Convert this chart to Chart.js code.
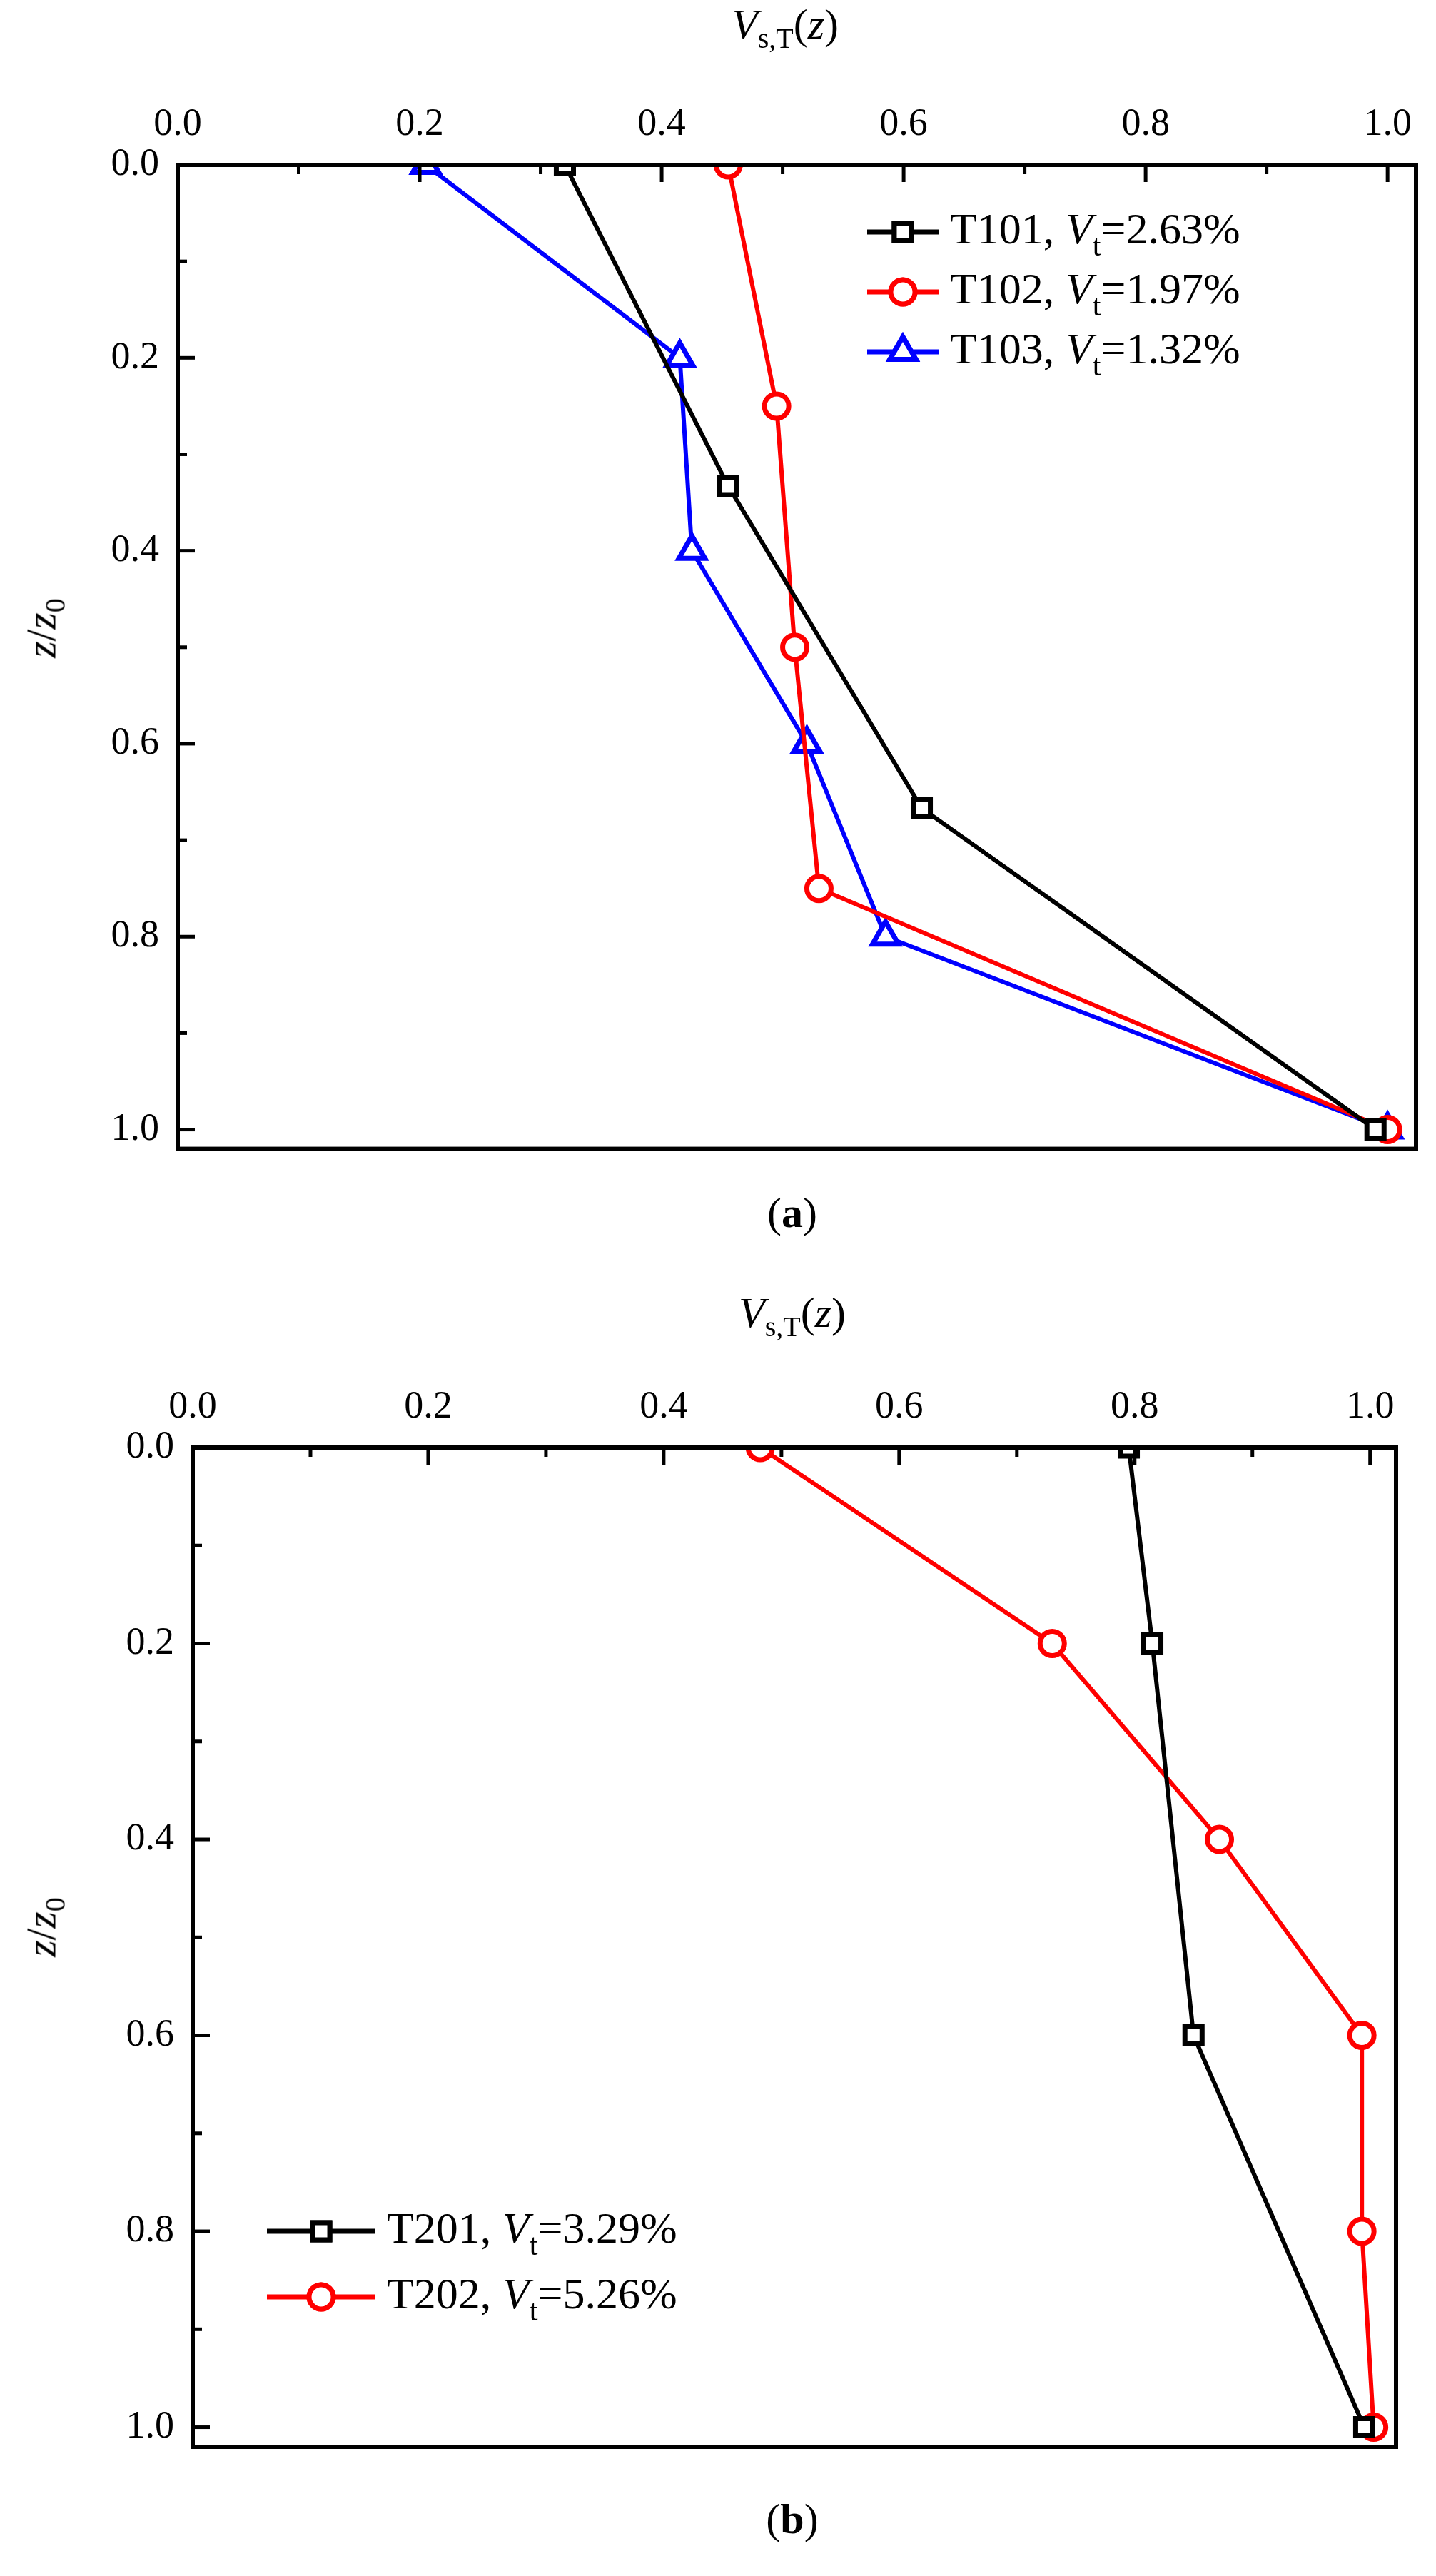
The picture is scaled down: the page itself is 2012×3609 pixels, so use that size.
<!DOCTYPE html>
<html><head><meta charset="utf-8">
<script src="https://cdn.jsdelivr.net/npm/chart.js@4"></script>
<style>
body{margin:0;background:#fff;width:2012px;height:3609px;position:relative;font-family:"Liberation Serif","Times New Roman",serif;}
.c{position:absolute;left:0;width:2012px;}
.t{position:absolute;font-size:60px;white-space:nowrap;color:#000;}
.t sub{font-size:40px;}
.yt{transform:translate(-50%,-50%) rotate(-90deg);}
.xt{transform:translateX(-50%);}
</style></head><body>
<div class="c" style="top:0;height:1660px"><canvas id="ca"></canvas></div>
<div class="c" style="top:1760px;height:1720px"><canvas id="cb"></canvas></div>
<div class="t xt" style="left:1100px;top:0px"><i>V</i><sub>s,T</sub>(<i>z</i>)</div>
<div class="t yt" style="left:62px;top:880px"><i>z</i>/<i>z</i><sub>0</sub></div>
<div class="t xt" style="left:1110px;top:1665px">(<b>a</b>)</div>
<div class="t xt" style="left:1110px;top:1805px"><i>V</i><sub>s,T</sub>(<i>z</i>)</div>
<div class="t yt" style="left:62px;top:2700px"><i>z</i>/<i>z</i><sub>0</sub></div>
<div class="t xt" style="left:1110px;top:3495px">(<b>b</b>)</div>
<script>
// chart (a)
const t101X = [0.32, 0.455, 0.615, 0.99];
const t101Y = [0, 0.333, 0.667, 1.0];
const t102X = [0.455, 0.495, 0.51, 0.53, 1.0];
const t102Y = [0, 0.25, 0.5, 0.75, 1.0];
const t103X = [0.205, 0.415, 0.425, 0.52, 0.585, 1.0];
const t103Y = [0, 0.2, 0.4, 0.6, 0.8, 1.0];
// chart (b)
const t201X = [0.795, 0.815, 0.85, 0.995];
const t201Y = [0, 0.2, 0.6, 1.0];
const t202X = [0.482, 0.73, 0.872, 0.993, 0.993, 1.003];
const t202Y = [0, 0.2, 0.4, 0.6, 0.8, 1.0];
const tickVals = [0, 0.2, 0.4, 0.6, 0.8, 1.0];

const FONT = '"Liberation Serif"';
const pts = (xs, ys) => xs.map((x, i) => ({x: x, y: ys[i]}));
function ds(label, xs, ys, color, style, r){
    return {label: label, data: pts(xs, ys), borderColor: color, backgroundColor: '#fff',
        borderWidth: 6, pointStyle: style, pointRadius: r, pointBorderWidth: 7, pointHoverRadius: r};
}

// frame + inward ticks
const framePlugin = {
    id: 'frame',
    afterDatasetsDraw(chart){
        const c = chart.ctx, a = chart.chartArea, xs = chart.scales.x, ys = chart.scales.y;
        c.save(); c.strokeStyle = '#000'; c.lineWidth = 6;
        c.strokeRect(a.left, a.top, a.right - a.left, a.bottom - a.top);
        c.lineWidth = 5;
        for(let i = 0; i <= 10; i++){
            const v = i / 10, len = i % 2 ? 13 : 24;
            const px = xs.getPixelForValue(v), py = ys.getPixelForValue(v);
            c.beginPath(); c.moveTo(px, a.top); c.lineTo(px, a.top + len); c.stroke();
            c.beginPath(); c.moveTo(a.left, py); c.lineTo(a.left + len, py); c.stroke();
        }
        c.restore();
    }
};
const legendPlugin = {
    id: 'leg',
    afterDraw(chart, args, opts){
        const c = chart.ctx;
        chart.data.datasets.forEach((d, i) => {
            const y = opts.y + i * opts.dy;
            c.save();
            c.strokeStyle = d.borderColor; c.lineWidth = 7;
            c.beginPath(); c.moveTo(opts.x0, y); c.lineTo(opts.x1, y); c.stroke();
            c.fillStyle = '#fff';
            Chart.helpers.drawPoint(c, {pointStyle: d.pointStyle, radius: d.pointRadius, borderWidth: 7}, (opts.x0 + opts.x1) / 2, y);
            c.fill(); c.stroke();
            c.fillStyle = '#000'; c.textBaseline = 'middle';
            let x = opts.x1 + 16;
            const parts = [[d.label[0], 'normal 62px', 0], ['V', 'italic 62px', 0], ['t', 'normal 42px', 22], [d.label[1], 'normal 62px', 0]];
            parts.forEach(p => {
                c.font = p[1] + ' ' + FONT;
                c.fillText(p[0], x, y + p[2]);
                x += c.measureText(p[0]).width;
            });
            c.restore();
        });
    }
};

function makeChart(id, sets, top, left, rightPad, bottomPad, xMax, leg){
    return new Chart(document.getElementById(id), {
        type: 'line',
        data: {datasets: sets},
        plugins: [framePlugin, legendPlugin],
        options: {
            responsive: true, maintainAspectRatio: false, animation: false,
            layout: {padding: {right: rightPad, bottom: bottomPad, top: 0, left: 0}},
            plugins: {legend: {display: false}, tooltip: {enabled: false}, leg: leg},
            scales: {
                x: {type: 'linear', position: 'top', min: 0, max: xMax,
                    grid: {display: false}, border: {display: false},
                    afterBuildTicks: s => { s.ticks = tickVals.map(v => ({value: v})); },
                    afterFit: s => { s.height = top; },
                    ticks: {color: '#000', padding: 16, maxRotation: 0, font: {family: FONT, size: 54},
                        callback: v => v.toFixed(1)}},
                y: {type: 'linear', reverse: true, min: 0, max: 1.02,
                    grid: {display: false}, border: {display: false},
                    afterBuildTicks: s => { s.ticks = tickVals.map(v => ({value: v})); },
                    afterFit: s => { s.width = left; },
                    ticks: {color: '#000', padding: 18, font: {family: FONT, size: 54},
                        callback: v => v.toFixed(1)}}
            }
        }
    });
}

makeChart('ca', [
    ds(['T101, ', '=2.63%'], t101X, t101Y, '#000', 'rect', 17),
    ds(['T102, ', '=1.97%'], t102X, t102Y, '#ff0000', 'circle', 17),
    ds(['T103, ', '=1.32%'], t103X, t103Y, '#0000ff', 'triangle', 21)
], 231, 249, 23, 31, 1.0235, {x0: 1215, x1: 1315, y: 325, dy: 84});

makeChart('cb', [
    ds(['T201, ', '=3.29%'], t201X, t201Y, '#000', 'rect', 17),
    ds(['T202, ', '=5.26%'], t202X, t202Y, '#ff0000', 'circle', 17)
], 268, 270, 56, 52, 1.022, {x0: 374, x1: 526, y: 1366, dy: 92});
</script>
</body></html>
